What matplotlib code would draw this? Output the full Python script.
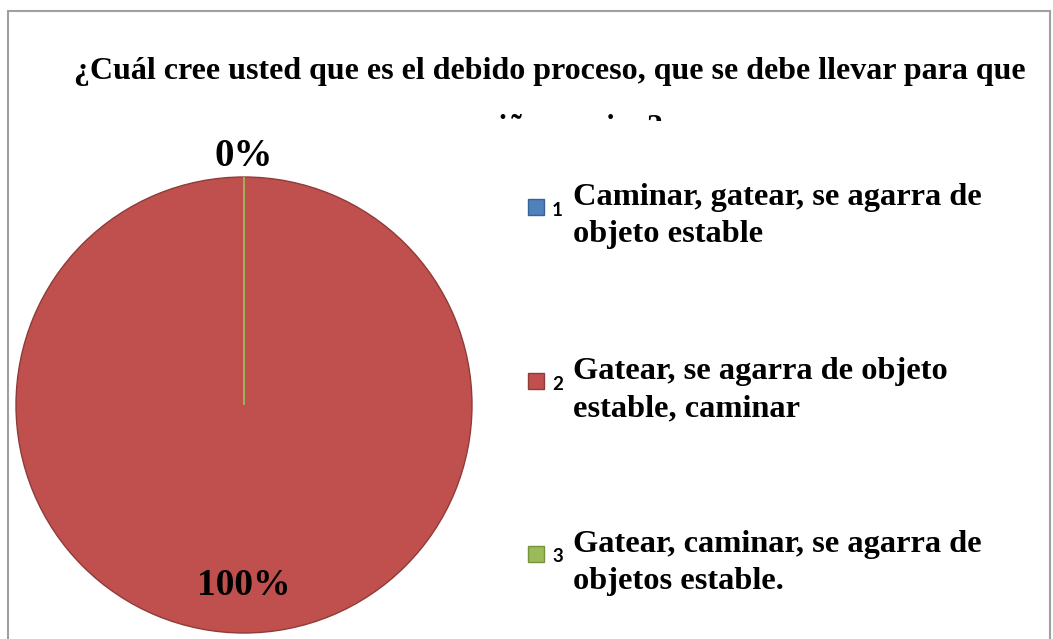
import matplotlib.pyplot as plt
from matplotlib.patches import Rectangle

categories = ["1", "2", "3"]
labels = [
    "Caminar, gatear, se agarra de\nobjeto estable",
    "Gatear, se agarra de objeto\nestable, caminar",
    "Gatear, caminar, se agarra de\nobjetos estable.",
]
values = [0, 100, 0]
colors = ["#4F81BD", "#C0504D", "#9BBB59"]
edges = ["#3A6292", "#8E3B39", "#77933C"]

title1 = "¿Cuál cree usted que es el debido proceso, que se debe llevar para que"
title2 = "un niño camine?"

W, H = 1053, 639
fig = plt.figure(figsize=(W / 100, H / 100), dpi=100)
fig.patch.set_facecolor("white")

# chart frame (bottom edge falls outside the picture)
frame = Rectangle((8 / W, -0.05), (1050 - 8) / W, 1.05 - 11 / H,
                  transform=fig.transFigure, fill=False,
                  edgecolor="#A0A0A0", linewidth=1.5)
fig.patches.append(frame)

serif = "Liberation Serif"

fig.text(550 / W, 1 - 72 / H, title1, ha="center", va="center",
         fontsize=23, fontweight="bold", family=serif)
# second title line is cut off by the plot area
t2 = fig.text(550 / W, 1 - 128 / H, title2, ha="center", va="center",
              fontsize=23, fontweight="bold", family=serif)
clip = Rectangle((0, 1 - 121 / H), 1, 121 / H, transform=fig.transFigure)
t2.set_clip_path(clip)

cx, cy, r = 244, 405, 228
ax = fig.add_axes([(cx - r) / W, 1 - (cy + r) / H, 2 * r / W, 2 * r / H])
wedges, _ = ax.pie(values, colors=colors, startangle=90, counterclock=False,
                   radius=1, wedgeprops=dict(linewidth=1))
for w, e in zip(wedges, edges):
    w.set_edgecolor(e)
# draw the zero-size green slice edge on top
wedges[2].set_zorder(5)
wedges[2].set_edgecolor(colors[2])
wedges[2].set_linewidth(1.3)
ax.set_xlim(-1, 1)
ax.set_ylim(-1, 1)
ax.set_aspect("equal")
ax.axis("off")

total = sum(values)
pct = [v / total * 100 for v in values]
ax.text(0, 1.09, f"{pct[2]:.0f}%", ha="center", va="center",
        fontsize=28, fontweight="bold", family=serif, clip_on=False)
ax.text(0, -0.79, f"{pct[1]:.0f}%", ha="center", va="center",
        fontsize=27, fontweight="bold", family=serif)

# legend
ys = [207, 381, 554]
for cat, lab, col, ed, y in zip(categories, labels, colors, edges, ys):
    fig.patches.append(Rectangle((528 / W, 1 - (y + 8) / H), 16 / W, 16 / H,
                                 transform=fig.transFigure, facecolor=col,
                                 edgecolor=ed, linewidth=1))
    fig.text(552 / W, 1 - (y + 3) / H, cat, ha="left", va="center",
             fontsize=13.5, fontweight="bold", family="Lato")
    fig.text(573 / W, 1 - (y + 9) / H, lab, ha="left", va="center",
             fontsize=23.3, fontweight="bold", family=serif, linespacing=1.38)

fig.savefig("out.png", dpi=100)
